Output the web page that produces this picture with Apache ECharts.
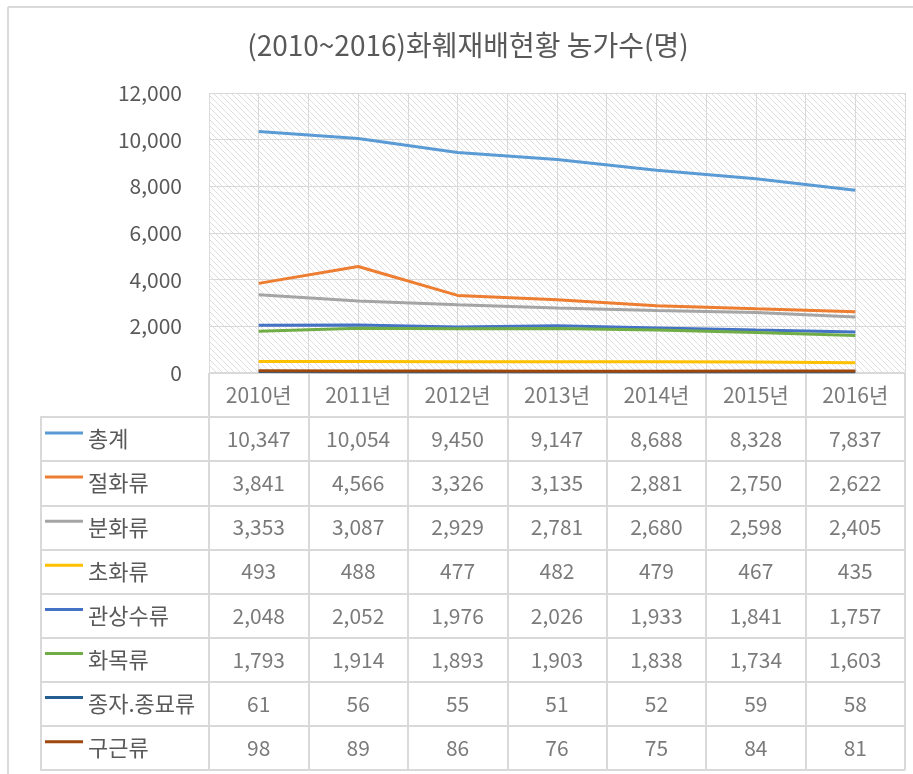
<!DOCTYPE html>
<html>
<head>
<meta charset="utf-8">
<script src="https://cdn.jsdelivr.net/npm/echarts@6/dist/echarts.min.js"></script>
<style>
html,body{margin:0;padding:0;background:#fff;}
#chart{width:913px;height:774px;}
</style>
</head>
<body>
<div id="chart"></div>
<script>
// ---- data ----
var titleText = '(2010~2016)화훼재배현황 농가수(명)';
var years = ['2010년', '2011년', '2012년', '2013년', '2014년', '2015년', '2016년'];
var seriesNames = ['총계', '절화류', '분화류', '초화류', '관상수류', '화목류', '종자.종묘류', '구근류'];
var total      = [10347, 10054, 9450, 9147, 8688, 8328, 7837];
var cutFlower  = [3841, 4566, 3326, 3135, 2881, 2750, 2622];
var potted     = [3353, 3087, 2929, 2781, 2680, 2598, 2405];
var herbaceous = [493, 488, 477, 482, 479, 467, 435];
var ornamental = [2048, 2052, 1976, 2026, 1933, 1841, 1757];
var shrubs     = [1793, 1914, 1893, 1903, 1838, 1734, 1603];
var seeds      = [61, 56, 55, 51, 52, 59, 58];
var bulbs      = [98, 89, 86, 76, 75, 84, 81];
var yTicks = [0, 2000, 4000, 6000, 8000, 10000, 12000];

var allValues = [total, cutFlower, potted, herbaceous, ornamental, shrubs, seeds, bulbs];
var colors = ['#5B9BD5', '#ED7D31', '#A5A5A5', '#FFC000', '#4472C4', '#70AD47', '#255E91', '#9E480E'];

var FONT = '"Noto Sans CJK KR", "Noto Sans", sans-serif';
var TXT = '#595959';
var GRID_LINE = '#d9d9d9';

// hatch pattern for plot background
var pc = document.createElement('canvas');
pc.width = 6; pc.height = 6;
var g = pc.getContext('2d');
g.fillStyle = '#ffffff'; g.fillRect(0, 0, 6, 6);
g.strokeStyle = '#dedede'; g.lineWidth = 1;
g.beginPath();
g.moveTo(-1, -1); g.lineTo(7, 7);
g.moveTo(5, -1); g.lineTo(7, 1);
g.moveTo(-1, 5); g.lineTo(1, 7);
g.stroke();

var fmt = function (v) { return Number(v).toLocaleString('en-US'); };

var tableRows = [''].concat(seriesNames);
var tableData = [];
years.forEach(function (y, j) { tableData.push([j, 0, y]); });
allValues.forEach(function (arr, i) {
  arr.forEach(function (v, j) { tableData.push([j, i + 1, fmt(v)]); });
});

var lineSeries = seriesNames.map(function (name, i) {
  return {
    name: name,
    type: 'line',
    xAxisIndex: 0,
    yAxisIndex: 0,
    data: allValues[i],
    symbol: 'none',
    lineStyle: { width: 3, color: colors[i] },
    itemStyle: { color: colors[i] },
    z: 3 + i
  };
});

var option = {
  animation: false,
  title: {
    text: titleText,
    left: 463,
    textAlign: 'center',
    top: 26,
    textStyle: { fontFamily: FONT, fontSize: 28, fontWeight: 'normal', color: TXT }
  },
  legend: {
    data: seriesNames,
    orient: 'vertical',
    left: 45,
    top: 427,
    padding: 0,
    itemGap: 20.1,
    icon: 'path://M0,0H38V3H0Z M0,15L0,15Z',
    itemWidth: 38,
    itemHeight: 15,
    itemStyle: { borderWidth: 0 },
    textStyle: { fontFamily: FONT, fontSize: 22, color: TXT, lineHeight: 24 },
    selectedMode: false
  },
  grid: [
    { left: 209, right: 8, top: 93, bottom: 401, show: true, backgroundColor: { image: pc, repeat: 'repeat' }, borderWidth: 0 },
    { left: 209, right: 8, top: 373, bottom: 4 },
    { left: 41, width: 168, top: 417.1, bottom: 4, show: true, borderColor: GRID_LINE, borderWidth: 2, backgroundColor: 'transparent' }
  ],
  xAxis: [
    { type: 'category', gridIndex: 0, data: years, boundaryGap: true,
      axisLabel: { show: false }, axisTick: { show: false },
      axisLine: { lineStyle: { color: GRID_LINE, width: 1 } } },
    { type: 'value', gridIndex: 0, min: 0, max: 14, interval: 1, show: true,
      axisLabel: { show: false }, axisTick: { show: false }, axisLine: { show: false },
      splitLine: { show: true, lineStyle: { color: GRID_LINE, width: 1 } } },
    { type: 'category', gridIndex: 1, data: years, boundaryGap: true,
      axisLabel: { show: false }, axisTick: { show: false }, axisLine: { show: false },
      splitLine: { show: true, interval: 0, lineStyle: { color: GRID_LINE, width: 2 } } },
    { type: 'value', gridIndex: 2, min: 0, max: 1, show: false }
  ],
  yAxis: [
    { type: 'value', gridIndex: 0, min: 0, max: 12000, interval: 2000,
      axisLabel: { fontFamily: FONT, fontSize: 21, color: TXT, margin: 27, formatter: fmt },
      axisLine: { show: false }, axisTick: { show: false },
      splitLine: { show: true, lineStyle: { color: GRID_LINE, width: 1 } } },
    { type: 'category', gridIndex: 1, data: tableRows, inverse: true, boundaryGap: true,
      axisLabel: { show: false }, axisTick: { show: false }, axisLine: { show: false },
      splitLine: { show: true, interval: 0, lineStyle: { color: GRID_LINE, width: 2 } } },
    { type: 'category', gridIndex: 2, data: seriesNames, inverse: true, boundaryGap: true,
      axisLabel: { show: false }, axisTick: { show: false }, axisLine: { show: false },
      splitLine: { show: true, interval: 0, lineStyle: { color: GRID_LINE, width: 2 } } }
  ],
  series: lineSeries.concat([
    {
      name: '_table',
      type: 'scatter',
      xAxisIndex: 2,
      yAxisIndex: 1,
      symbolSize: 0,
      silent: true,
      data: tableData,
      label: {
        show: true, position: 'inside',
        fontFamily: FONT, fontSize: 21, color: TXT,
        formatter: function (p) { return p.value[2]; }
      }
    }
  ]),
  graphic: [
    { type: 'line', shape: { x1: 8, y1: 7, x2: 913, y2: 7 }, style: { stroke: GRID_LINE, lineWidth: 2 }, silent: true },
    { type: 'line', shape: { x1: 8, y1: 7, x2: 8, y2: 774 }, style: { stroke: GRID_LINE, lineWidth: 2 }, silent: true }
  ]
};

var chart = echarts.init(document.getElementById('chart'));
chart.setOption(option);
</script>
</body>
</html>
